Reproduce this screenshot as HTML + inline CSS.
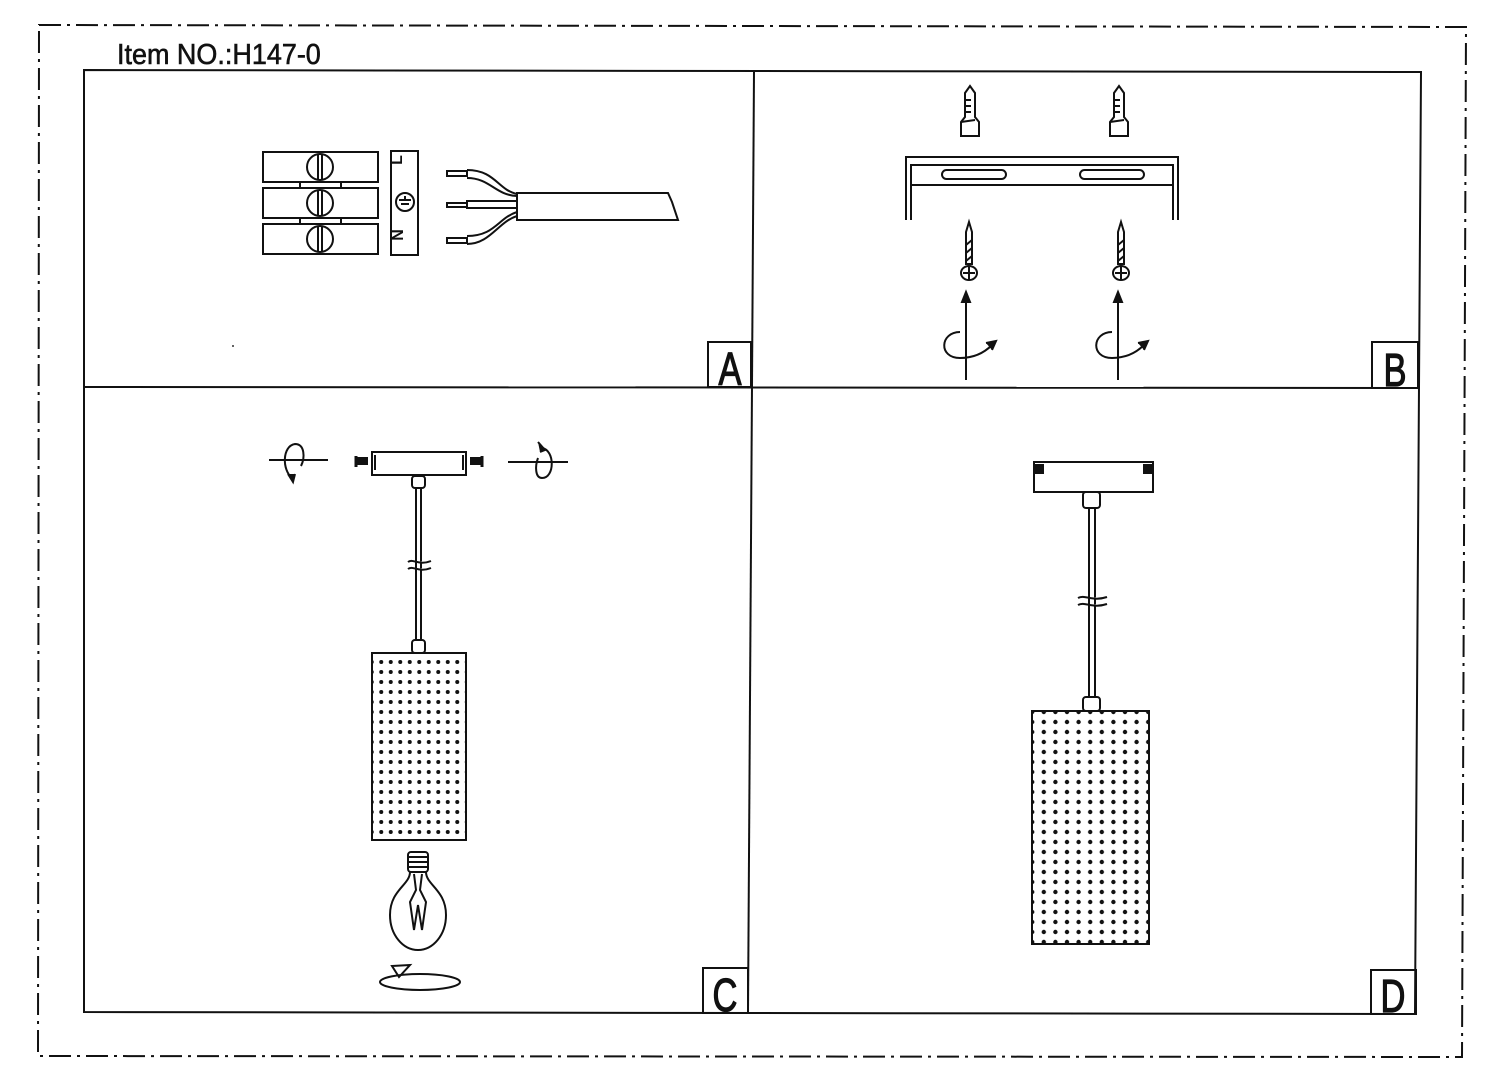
<!DOCTYPE html>
<html><head><meta charset="utf-8"><style>
html,body{margin:0;padding:0;background:#fff;width:1500px;height:1088px;overflow:hidden}
svg{display:block}
text{font-family:"Liberation Sans",sans-serif}
</style></head><body>
<svg width="1500" height="1088" viewBox="0 0 1500 1088" xmlns="http://www.w3.org/2000/svg">
<defs>
<pattern id="dc" x="376.5" y="657" width="9.5" height="10" patternUnits="userSpaceOnUse"><circle cx="4.75" cy="5" r="2" fill="#111"/></pattern>
<pattern id="dd" x="1038" y="717" width="11.6" height="10" patternUnits="userSpaceOnUse"><circle cx="5.8" cy="5" r="2.2" fill="#111"/></pattern>
</defs>
<g fill="none" stroke="#111" stroke-width="2">
<polygon points="39,25 1466,27 1462,1057 38,1056" stroke-dasharray="22,6,3,6"/>
<polygon points="84,70 1421,72 1415,1014 84,1012"/>
<line x1="754" y1="71" x2="748" y2="1013"/>
<line x1="84" y1="387" x2="1419" y2="388"/>
<rect x="708" y="342" width="43" height="45"/>
<rect x="1372" y="342" width="46" height="46"/>
<rect x="703" y="968" width="45" height="45"/>
<rect x="1371" y="970" width="45" height="44"/>
</g>
<text x="117" y="64" font-size="29" transform="translate(117,0) scale(0.93,1) translate(-117,0)" fill="#111" stroke="#111" stroke-width="0.6">Item NO.:H147-0</text>
<g font-size="46" fill="#111" text-anchor="middle" stroke="#111" stroke-width="1.2">
<text x="730" y="385" transform="translate(730,0) scale(0.75,1) translate(-730,0)">A</text>
<text x="1395" y="386" transform="translate(1395,0) scale(0.75,1) translate(-1395,0)">B</text>
<text x="725" y="1011" transform="translate(725,0) scale(0.75,1) translate(-725,0)">C</text>
<text x="1393" y="1012" transform="translate(1393,0) scale(0.75,1) translate(-1393,0)">D</text>
</g>

<!-- Panel A -->
<g fill="none" stroke="#111" stroke-width="2">
<rect x="263" y="152" width="115" height="30"/>
<rect x="263" y="188" width="115" height="30"/>
<rect x="263" y="224" width="115" height="30"/>
<rect x="300" y="182" width="41" height="6"/>
<rect x="300" y="218" width="41" height="6"/>
<circle cx="320" cy="167" r="13"/><circle cx="320" cy="203" r="13"/><circle cx="320" cy="239" r="13"/>
<line x1="318" y1="154" x2="318" y2="180"/><line x1="322" y1="154" x2="322" y2="180"/>
<line x1="318" y1="190" x2="318" y2="216"/><line x1="322" y1="190" x2="322" y2="216"/>
<line x1="318" y1="226" x2="318" y2="252"/><line x1="322" y1="226" x2="322" y2="252"/>
<rect x="391" y="151" width="27" height="104"/>
<circle cx="405" cy="202" r="9"/>
<path d="M399,200 h12 M401,204 h8 M405,196 v4"/>
<path d="M517,193 H668 L672,202 L678,220 H517 Z"/>
<path d="M467,170 C495,170 498,190 517,194"/>
<path d="M467,178 C490,178 495,195 517,196"/>
<rect x="467" y="201" width="50" height="7"/>
<path d="M467,236 C495,236 498,218 517,212"/>
<path d="M467,244 C490,244 498,222 517,216"/>
<rect x="447" y="171" width="20" height="5"/>
<rect x="447" y="203" width="20" height="4"/>
<rect x="447" y="238" width="20" height="5"/>
</g>
<text x="410" y="162" font-size="16" font-weight="bold" fill="#111" transform="rotate(-90 405 165)" text-anchor="middle">L</text>
<text x="410" y="238" font-size="16" font-weight="bold" fill="#111" transform="rotate(-90 405 240)" text-anchor="middle">N</text>
<circle cx="233" cy="346" r="1" fill="#333"/>

<!-- Panel B -->
<g fill="none" stroke="#111" stroke-width="2">
<path d="M906,220 V157 H1178 V220 M911,220 V165 H1173 V220 M911,185 H1173"/>
<rect x="942" y="170" width="64" height="9" rx="4.5"/>
<rect x="1080" y="170" width="64" height="9" rx="4.5"/>
<g id="anc">
<path d="M965,93 L970,86 L975,93 V117 L979,122 V136 H961 V122 L965,117 Z"/>
<path d="M966,100 h5 M966,106 h5 M966,112 h5 M961,122 L975,120"/>
</g>
<use href="#anc" transform="translate(149,0)"/>
<g id="scr">
<path d="M966,232 L969,222 L972,232 V264 H966 Z"/>
<path d="M966,245 L972,240 M966,253 L972,248 M966,261 L972,256"/>
<ellipse cx="969" cy="273" rx="8" ry="7"/>
<path d="M963,273 h12 M969,267 v12"/>
<line x1="966" y1="380" x2="966" y2="300"/>
<path d="M962,302 L966,292 L970,302 Z" fill="#111"/>
<path d="M960,332 C940,332 938,358 960,358 C975,358 985,352 992,345"/>
<path d="M986,343 L996,341 L992,350" fill="#111"/>
</g>
<use href="#scr" transform="translate(152,0)"/>
</g>

<!-- Panel C -->
<g fill="none" stroke="#111" stroke-width="2">
<rect x="372" y="452" width="94" height="23"/>
<line x1="375" y1="455" x2="375" y2="470"/><line x1="463" y1="455" x2="463" y2="470"/>
<rect x="358" y="458" width="9" height="6" fill="#111"/><line x1="356" y1="456" x2="356" y2="467" stroke-width="3"/>
<rect x="471" y="458" width="9" height="6" fill="#111"/><line x1="482" y1="456" x2="482" y2="467" stroke-width="3"/>
<rect x="412" y="476" width="13" height="12" rx="3"/>
<line x1="416" y1="488" x2="416" y2="640"/><line x1="421" y1="488" x2="421" y2="640"/>
<path d="M408,562 C413,558 418,566 431,561 M408,569 C413,565 418,573 431,568" stroke="#111" fill="#fff"/>
<rect x="412" y="640" width="13" height="13" rx="3"/>
<rect x="372" y="653" width="94" height="187" fill="url(#dc)"/>
<line x1="269" y1="460" x2="328" y2="460"/>
<path d="M292,478 C282,470 282,446 295,444 C305,444 305,458 301,466"/>
<path d="M288,474 L293,482 L295,474" fill="#111"/>
<line x1="508" y1="462" x2="568" y2="462"/>
<path d="M542,448 C555,450 555,478 542,478 C535,478 535,466 538,458"/>
<path d="M538,442 L545,450 L540,452" fill="#111"/>
<rect x="408" y="852" width="20" height="20" rx="3"/>
<path d="M408,857 h20 M408,862 h20 M408,867 h20"/>
<path d="M410,872 C410,885 390,890 390,915 C390,935 403,950 418,950 C433,950 446,935 446,915 C446,890 426,885 426,872"/>
<path d="M414,874 L416,890 L410,902 L414,930 L418,905 L422,930 L426,902 L420,890 L422,874"/>
<ellipse cx="420" cy="982" rx="40" ry="8"/>
<path d="M392,966 L410,965 L399,977 Z"/>
</g>

<!-- Panel D -->
<g fill="none" stroke="#111" stroke-width="2">
<rect x="1034" y="462" width="119" height="30"/>
<rect x="1036" y="465" width="7" height="8" fill="#111"/><rect x="1144" y="465" width="7" height="8" fill="#111"/>
<rect x="1083" y="492" width="17" height="16" rx="3"/>
<line x1="1089" y1="508" x2="1089" y2="697"/><line x1="1095" y1="508" x2="1095" y2="697"/>
<path d="M1078,598 C1085,594 1092,602 1107,597 M1078,605 C1085,601 1092,609 1107,604" fill="#fff"/>
<rect x="1083" y="697" width="17" height="14" rx="3"/>
<rect x="1032" y="711" width="117" height="233" fill="url(#dd)"/>
</g>
</svg>
</body></html>
